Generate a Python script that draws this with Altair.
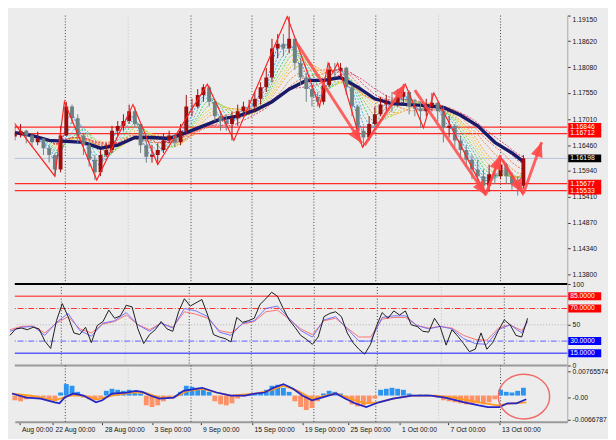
import math
import altair as alt
import pandas as pd

# ---------------- values ----------------
first_open = 1.1665
close = [1.1671,1.1677,1.1667,1.1653,1.1661,1.1641,1.1627,1.1597,1.1667,1.1727,
         1.1703,1.1667,1.1647,1.1617,1.1591,1.1627,1.1637,1.1677,1.1687,1.1697,
         1.1717,1.1691,1.1647,1.1623,1.1627,1.1637,1.1657,1.1667,1.1653,1.1677,
         1.1727,1.1727,1.1751,1.1767,1.1737,1.1707,1.1697,1.1691,1.1703,1.1717,
         1.1727,1.1727,1.1743,1.1767,1.1787,1.1847,1.1857,1.1847,1.1867,1.1817,
         1.1787,1.1763,1.1747,1.1737,1.1771,1.1803,1.1801,1.1807,1.1767,1.1727,
         1.1677,1.1663,1.1691,1.1711,1.1731,1.1737,1.1735,1.1747,1.1757,1.1727,
         1.1723,1.1717,1.1727,1.1735,1.1717,1.1683,1.1687,1.1657,1.1637,1.1617,
         1.1597,1.1583,1.1563,1.1587,1.1583,1.1607,1.1583,1.1567,1.1563,1.1620]
high = [1.1687,1.1691,1.1679,1.1671,1.1675,1.1661,1.1647,1.1631,1.1687,1.1737,
        1.1731,1.1711,1.1671,1.1651,1.1627,1.1637,1.1651,1.1687,1.1697,1.1711,
        1.1731,1.1727,1.1691,1.1657,1.1647,1.1651,1.1671,1.1677,1.1671,1.1691,
        1.1751,1.1743,1.1763,1.1773,1.1771,1.1737,1.1717,1.1711,1.1717,1.1731,
        1.1737,1.1741,1.1757,1.1777,1.1807,1.1867,1.1877,1.1877,1.1913,1.1867,
        1.1827,1.1797,1.1771,1.1757,1.1783,1.1817,1.1817,1.1817,1.1809,1.1771,
        1.1731,1.1687,1.1707,1.1727,1.1747,1.1751,1.1757,1.1763,1.1773,1.1761,
        1.1743,1.1737,1.1743,1.1755,1.1737,1.1727,1.1707,1.1691,1.1667,1.1647,
        1.1627,1.1617,1.1597,1.1607,1.1607,1.1623,1.1611,1.1591,1.1583,1.1627]
low = [1.1657,1.1663,1.1651,1.1643,1.1647,1.1627,1.1611,1.1583,1.1591,1.1667,
       1.1691,1.1651,1.1627,1.1603,1.1575,1.1583,1.1623,1.1631,1.1667,1.1677,
       1.1691,1.1683,1.1631,1.1611,1.1611,1.1607,1.1631,1.1651,1.1643,1.1647,
       1.1671,1.1707,1.1723,1.1737,1.1727,1.1697,1.1677,1.1677,1.1657,1.1687,
       1.1707,1.1711,1.1717,1.1731,1.1757,1.1777,1.1827,1.1831,1.1837,1.1803,
       1.1771,1.1737,1.1727,1.1727,1.1731,1.1767,1.1787,1.1787,1.1751,1.1707,
       1.1663,1.1643,1.1657,1.1687,1.1707,1.1717,1.1717,1.1727,1.1731,1.1711,
       1.1707,1.1683,1.1707,1.1717,1.1697,1.1653,1.1663,1.1643,1.1623,1.1603,
       1.1577,1.1567,1.1547,1.1551,1.1567,1.1577,1.1567,1.1555,1.1543,1.1557]

# thick navy moving average (bar position, price)
ma_x = [0.5,3.5,6.5,9.5,12.5,15.5,18.5,21.5,24.5,27.5,30.5,33.5,36.5,39.5,42.5,45.5,
        48.5,51.5,54.5,57.5,60.5,63.5,66.5,69.5,72.5,75.5,78.5,81.5,84.5,87.5,89.5]
ma_price = [1.1673,1.1667,1.1657,1.1655,1.1653,1.1641,1.1647,1.1663,1.1663,1.1661,
            1.1673,1.1687,1.1701,1.1707,1.1719,1.1737,1.1763,1.1781,1.1781,1.1787,
            1.1767,1.1743,1.1733,1.1731,1.1729,1.1725,1.1709,1.1687,1.1653,1.1631,1.1613]
ribbon_periods = [1, 2, 3, 4, 5, 6, 7, 8, 10, 12, 14, 16]

# zigzag vertices
zz_x = [0.0,7.5,9.17,14.83,21.17,25.5,34.17,38.83,48.17,53.83,55.33,56.17,57.0,
        61.33,68.83,72.0,73.83,82.83,85.5,89.5]
zz_p = [1.1699,1.1583,1.1737,1.1575,1.1731,1.1607,1.1773,1.1657,1.1913,1.1727,
        1.1817,1.1797,1.1817,1.1643,1.1773,1.1683,1.1755,1.1547,1.1623,1.1543]

# hand-drawn arrows (start -> tip)
arr_x0 = [49.7, 61.7, 70.5, 83.0, 85.8, 89.5]
arr_p0 = [1.1861, 1.1647, 1.1761, 1.1547, 1.1617, 1.1547]
arr_x1 = [61.2, 68.8, 83.0, 85.5, 89.5, 92.7]
arr_p1 = [1.1651, 1.1773, 1.1543, 1.1627, 1.1547, 1.1653]

level_prices = [1.16846, 1.16712, 1.15677, 1.15533]
current_price = 1.16198
price_ticks = [1.19150, 1.18620, 1.18080, 1.17550, 1.17010, 1.16460,
               1.15940, 1.15410, 1.14870, 1.14340, 1.13800]
price_boxes = [1.16846, 1.16712, 1.16198, 1.15677, 1.15533]
price_box_text = ["1.16846", "1.16712", "1.16198", "1.15677", "1.15533"]
price_box_fill = ["#ff0000", "#ff0000", "#000000", "#ff0000", "#ff0000"]

# period separators
sep_dark = [9.33, 31.33, 42.0, 52.83, 63.67, 85.5]
sep_light = [20.33, 74.67]

# RSI panel
rsi_fast = [37,45,46,44,47,45,30,21,55,76,
            60,40,38,47,28,49,54,68,58,61,
            74,72,45,27,38,44,54,45,42,66,
            82,73,77,81,62,38,35,33,29,59,
            53,55,58,75,82,90,85,70,56,47,
            37,32,26,35,60,64,66,60,40,28,
            20,14,26,48,65,58,67,62,67,50,
            48,42,41,58,47,25,44,36,27,17,
            20,40,20,28,43,56,50,37,35,58]
rsi_slow_bars = list(range(0, 89, 2)) + [89]
rsi_mid = [42,47,48,37,53,64,43,36,52,55,65,50,42,52,46,70,67,60,41,37,
           52,55,70,73,58,43,35,56,60,45,30,30,59,61,61,49,45,48,45,33,
           27,26,44,50,40,55]
rsi_slow = [44,48,48.5,40,52,60,45,40,51,54,62,50,44,52,47,66,63,58,43,40,
            51,54,66,68,57,45,38,55,58,46,35,35,57,59,59,49,46,48,46,37,
            32,31,46,50,43,53]
rsi_levels = [85, 70, 50, 30, 15]
rsi_box_vals = [85, 70, 30, 15]
rsi_box_text = ["85.0000", "70.0000", "30.0000", "15.0000"]
rsi_box_fill = ["#ff0000", "#ff0000", "#0000ff", "#0000ff"]

# MACD panel
macd_hist = [-0.0014,-0.0017,-0.0011,-0.0006,-0.0003,-0.0006,-0.0011,-0.0017,0.0009,0.0034,
             0.0029,0.0011,-0.0006,-0.0011,-0.0014,-0.0006,0.0014,0.0020,0.0017,0.0014,
             0.0017,0.0014,0.0006,-0.0029,-0.0034,-0.0029,-0.0017,-0.0006,-0.0003,0.0011,
             0.0029,0.0026,0.0023,0.0017,0.0011,-0.0017,-0.0026,-0.0029,-0.0023,-0.0009,
             -0.0003,0.0003,0.0006,0.0009,0.0017,0.0029,0.0032,0.0023,0.0011,-0.0017,
             -0.0034,-0.0043,-0.0037,-0.0017,0.0006,0.0014,0.0011,0.0006,-0.0011,-0.0026,
             -0.0032,-0.0029,-0.0023,-0.0009,0.0017,0.0020,0.0023,0.0020,0.0017,0.0006,
             0.0000,0.0003,0.0003,0.0000,-0.0006,-0.0014,-0.0017,-0.0020,-0.0023,-0.0026,
             -0.0026,-0.0023,-0.0026,-0.0020,-0.0011,0.0017,0.0011,0.0009,0.0014,0.0023]
macd_x = [0.0,2.5,5.0,7.5,8.3,9.2,10.8,12.5,14.7,15.8,17.5,20.0,21.7,22.8,24.2,25.8,
          28.3,30.0,33.3,35.8,38.3,40.8,42.5,44.2,45.8,47.5,49.2,50.8,52.5,54.2,56.7,
          58.3,60.0,62.0,64.2,66.7,70.0,73.3,75.8,79.2,81.7,83.3,85.3,86.7,88.3,90.0]
macd_main = [0.0006,-0.0006,-0.0009,-0.0020,-0.0023,-0.0006,0.0006,0.0,-0.0020,-0.0014,
             0.0006,0.0009,0.0014,0.0011,0.0,-0.0009,-0.0006,0.0014,0.0023,0.0009,
             0.0,0.0,0.0006,0.0009,0.0023,0.0034,0.0020,0.0,-0.0014,-0.0006,0.0006,
             -0.0009,-0.0023,-0.0034,-0.0020,-0.0009,0.0,0.0,-0.0006,-0.0020,-0.0029,
             -0.0034,-0.0034,-0.0023,-0.0023,-0.0011]
sig_x = [0.0,3.3,7.5,10.0,12.5,15.0,17.5,20.8,23.3,25.8,28.3,30.8,33.3,35.8,38.3,42.5,
         45.0,47.5,50.0,52.5,54.2,56.7,59.2,61.7,64.2,66.7,70.0,74.2,77.5,81.7,85.0,87.5,90.0]
macd_signal = [0.0006,0.0,-0.0014,0.0,0.0,-0.0011,0.0,0.0009,0.0009,-0.0006,-0.0006,
               0.0014,0.0020,0.0009,0.0,0.0006,0.0014,0.0029,0.0014,-0.0009,-0.0003,
               0.0006,-0.0009,-0.0023,-0.0020,-0.0009,0.0,0.0,-0.0006,-0.0020,-0.0029,
               -0.0023,-0.0020]
macd_ticks = [0.0072, -0.0006, -0.0072]
circle_x = [89.6]
circle_v = [-0.0003]

x_tick_vals = [1.34, 7.17, 15.83, 24.5, 33.0, 42.0, 50.83, 58.83, 67.83, 76.33, 85.33]
x_tick_text = ["Aug 00:00", "22 Aug 00:00", "28 Aug 00:00", "3 Sep 00:00", "9 Sep 00:00",
               "15 Sep 00:00", "19 Sep 00:00", "25 Sep 00:00", "1 Oct 00:00",
               "7 Oct 00:00", "13 Oct 00:00"]

# ---------------- layout / style ----------------
W = 570
H_PRICE, H_RSI, H_MACD = 277, 84, 58
X_MIN, X_MAX = 8 / 6, 578 / 6
P_MIN, P_MAX = 1.1360, 1.1915
M_MIN, M_MAX = -0.00776, 0.00891
BG = "#ececec"
FONT = "Liberation Sans"
BULL, BEAR = "#9c0d0d", "#6f8080"
ARROW = "#ff4848"
RIB_COLORS = ["#3a78e0", "#3f9ee8", "#3bbfd2", "#3cc85a", "#86d03a", "#d6d33a",
              "#f2c033", "#f5a23a", "#f3843f", "#f0684a", "#ea5060", "#df4272"]

XSCALE = alt.Scale(domain=[X_MIN, X_MAX], nice=False, zero=False)
x_label_expr = ("%s[indexof(%s, datum.value)]" % (
    "[" + ",".join("'%s'" % t for t in x_tick_text) + "]",
    "[" + ",".join(str(v) for v in x_tick_vals) + "]"))
X_AXIS = alt.Axis(values=x_tick_vals, labelExpr=x_label_expr, orient="bottom",
                  labelAlign="left", labelOffset=2, tickSize=3, labelPadding=1,
                  domainColor="#9a9a9a", domainWidth=2, title=None,
                  labelOverlap=False, labelFlush=False)


def X(field, axis=None):
    return alt.X(field, type="quantitative", scale=XSCALE, axis=axis)


def MXe(field):
    return X(field, X_AXIS)


P_SCALE = alt.Scale(domain=[P_MIN, P_MAX], nice=False, zero=False)
P_AXIS = alt.Axis(orient="right", values=price_ticks, format=".5f", labelFlush=True,
                  title=None, domainColor="#a8a8a8")
R_SCALE = alt.Scale(domain=[0, 100], nice=False)
R_AXIS = alt.Axis(orient="right", values=[0, 50, 100], format="d", title=None,
                  domainColor="#a8a8a8")
M_SCALE = alt.Scale(domain=[M_MIN, M_MAX], nice=False, zero=False)
M_AXIS = alt.Axis(orient="right", values=macd_ticks, title=None, domainColor="#a8a8a8",
                  labelExpr="datum.value > 0.001 ? '0.00765574' : (datum.value < -0.003 ? '-0.0066787' : '-0.00')")


def PY(f):
    return alt.Y(f, type="quantitative", scale=P_SCALE, axis=P_AXIS)


def RY(f):
    return alt.Y(f, type="quantitative", scale=R_SCALE, axis=R_AXIS)


def MY(f):
    return alt.Y(f, type="quantitative", scale=M_SCALE, axis=M_AXIS)


# ---------------- tables ----------------
n = len(close)
bars = pd.DataFrame({"i": list(range(n)), "close": close, "high": high, "low": low,
                     "open": [first_open] + close[:-1], "h": macd_hist, "rsi": rsi_fast})
bars["x"] = bars["i"] + 0.5
ma_df = pd.DataFrame({"x": ma_x, "p": ma_price})
zz_df = pd.DataFrame({"x": zz_x, "p": zz_p, "n": list(range(len(zz_x)))})
px_per_x = W / (X_MAX - X_MIN)
px_per_p = H_PRICE / (P_MAX - P_MIN)
arr_df = pd.DataFrame({"x0": arr_x0, "p0": arr_p0, "x1": arr_x1, "p1": arr_p1})
arr_df["ang"] = [math.degrees(math.atan2((b - a) * px_per_x, (d - c) * px_per_p)) % 360
                 for a, b, c, d in zip(arr_x0, arr_x1, arr_p0, arr_p1)]
sep_dark_df = pd.DataFrame({"x": sep_dark})
sep_light_df = pd.DataFrame({"x": sep_light})
lvl_df = pd.DataFrame({"p": level_prices})
cur_df = pd.DataFrame({"p": [current_price]})
pbox_df = pd.DataFrame({"p": price_boxes, "t": price_box_text, "f": price_box_fill})
slow_df = pd.DataFrame({"i": rsi_slow_bars, "mid": rsi_mid, "slow": rsi_slow})
slow_df["x"] = slow_df["i"] + 0.5
rbox_df = pd.DataFrame({"v": rsi_box_vals, "t": rsi_box_text, "f": rsi_box_fill})
main_df = pd.DataFrame({"x": macd_x, "v": macd_main})
sig_df = pd.DataFrame({"x": sig_x, "v": macd_signal})
circ_df = pd.DataFrame({"x": circle_x, "v": circle_v})

BOX_PATH = "M-1,-0.24L1,-0.24L1,0.24L-1,0.24Z"
HEAD_PATH = "M0,0L0.42,1L-0.42,1Z"
ELLIPSE_PATH = "M1,0A1,0.87,0,1,1,-1,0A1,0.87,0,1,1,1,0Z"


def separators(xf):
    d = alt.Chart(sep_dark_df).mark_rule(strokeDash=[1, 2], strokeWidth=1,
                                         color="#3a3a3a").encode(x=xf("x"))
    l = alt.Chart(sep_light_df).mark_rule(strokeDash=[1, 2], strokeWidth=1,
                                          color="#c2c2c2").encode(x=xf("x"))
    return d + l


def boxes(df, yf, field):
    b = alt.Chart(df).mark_point(shape=BOX_PATH, size=1156, filled=True, opacity=1,
                                 strokeWidth=0).encode(
        x=alt.value(588), y=yf(field), fill=alt.Fill("f:N", scale=None))
    t = alt.Chart(df).mark_text(align="left", baseline="middle", fontSize=7, font=FONT,
                                color="white").encode(
        x=alt.value(573), y=yf(field), text="t:N")
    return b + t


# ---------------- price panel ----------------
cur_line = alt.Chart(cur_df).mark_rule(color="#b5bde0", strokeWidth=1).encode(y=PY("p"))
lvl_lines = alt.Chart(lvl_df).mark_rule(color="#ff2a2a", strokeWidth=1.3).encode(y=PY("p"))

rib = alt.Chart(bars)
for k in ribbon_periods:
    rib = rib.transform_window(frame=[-k, 0], sort=[alt.SortField("i")],
                               **{"m%d" % k: "mean(close)"})
rib_keys = ["m%d" % k for k in ribbon_periods]
ribbon = rib.transform_fold(rib_keys, as_=["k", "v"]).mark_line(
    strokeDash=[2, 1.5], strokeWidth=1, clip=True).encode(
    x=X("x"), y=PY("v:Q"),
    stroke=alt.Stroke("k:N", scale=alt.Scale(domain=rib_keys, range=RIB_COLORS), legend=None))

navy = alt.Chart(ma_df).mark_line(color="#1a1a6a", strokeWidth=3.5, clip=True).encode(
    x=X("x"), y=PY("p"))
candle_color = alt.condition("datum.close >= datum.open", alt.value(BULL), alt.value(BEAR))
wicks = alt.Chart(bars).mark_rule(strokeWidth=1, clip=True).encode(
    x=X("x"), y=PY("low"), y2="high", color=candle_color)
bodies = alt.Chart(bars).mark_bar(size=4, clip=True).encode(
    x=X("x"), y=PY("open"), y2="close", color=candle_color)
zigzag = alt.Chart(zz_df).mark_line(color="#ff2020", strokeWidth=1.2, clip=True).encode(
    x=X("x"), y=PY("p"), order="n:Q")
arr_lines = alt.Chart(arr_df).mark_rule(color=ARROW, strokeWidth=3, opacity=0.85).encode(
    x=X("x0"), y=PY("p0"), x2="x1", y2="p1")
arr_heads = alt.Chart(arr_df).mark_point(shape=HEAD_PATH, size=900, filled=True,
                                         color=ARROW, opacity=0.9, strokeWidth=0).encode(
    x=X("x1"), y=PY("p1"), angle=alt.Angle("ang:Q", scale=None))

price = alt.layer(separators(X), cur_line, lvl_lines, ribbon, navy, wicks, bodies, zigzag,
                  arr_lines, arr_heads, boxes(pbox_df, PY, "p")).resolve_scale(
    stroke="independent").properties(width=W, height=H_PRICE)

# ---------------- RSI panel ----------------
lv_styles = {85: dict(color="#ff5c5c", strokeWidth=1.5),
             70: dict(color="#ff3030", strokeWidth=1.2, strokeDash=[6, 2, 1, 2]),
             50: dict(color="#b0b0b0", strokeWidth=1, strokeDash=[1, 2]),
             30: dict(color="#7b7bff", strokeWidth=1.2, strokeDash=[6, 2, 1, 2]),
             15: dict(color="#5c5cff", strokeWidth=1.5)}
rsi_layers = [separators(X)]
for lv in rsi_levels:
    rsi_layers.append(alt.Chart(pd.DataFrame({"v": [lv]})).mark_rule(**lv_styles[lv]).encode(
        y=RY("v")))
rsi_layers.append(alt.Chart(pd.DataFrame({"v": [100]})).mark_rule(
    color="#000000", strokeWidth=2).encode(y=RY("v")))
rsi_layers.append(alt.Chart(slow_df).mark_line(color="#ff7070", strokeWidth=1).encode(
    x=X("x"), y=RY("slow")))
rsi_layers.append(alt.Chart(slow_df).mark_line(color="#6f6fff", strokeWidth=1).encode(
    x=X("x"), y=RY("mid")))
rsi_layers.append(alt.Chart(bars).mark_line(color="#1a1a1a", strokeWidth=1).encode(
    x=X("x"), y=RY("rsi")))
rsi_layers.append(boxes(rbox_df, RY, "v"))
rsi = alt.layer(*rsi_layers).properties(width=W, height=H_RSI)

# ---------------- MACD panel ----------------
top_sep = alt.Chart(pd.DataFrame({"v": [M_MAX]})).mark_rule(
    color="#9a9a9a", strokeWidth=2).encode(y=MY("v"))
hist = alt.Chart(bars).mark_bar(size=5).encode(
    x=MXe("x"), y=MY("h"), y2=alt.datum(0),
    color=alt.condition("datum.h > 0", alt.value("#2b93f0"), alt.value("#ff9166")))
sig_line = alt.Chart(sig_df).mark_line(color="#ff9a1f", strokeWidth=1.8).encode(
    x=MXe("x"), y=MY("v"))
main_line = alt.Chart(main_df).mark_line(color="#2525c8", strokeWidth=1.8).encode(
    x=MXe("x"), y=MY("v"))
circ = alt.Chart(circ_df).mark_point(shape=ELLIPSE_PATH, size=2809, filled=False,
                                     color="#f06a6a", strokeWidth=1.5, opacity=1).encode(
    x=MXe("x"), y=MY("v"))
macd = alt.layer(top_sep, separators(MXe), hist, sig_line, main_line, circ).properties(
    width=W, height=H_MACD)

chart = alt.vconcat(price, rsi, macd, spacing=0, bounds="flush").properties(
    padding=0, background=BG).configure_view(stroke=None, fill=BG).configure_axis(
    labelFont=FONT, labelFontSize=7, labelColor="#111111", tickColor="#333333",
    tickSize=3, grid=False, labelPadding=2)

chart.save("out.html", embed_options={"renderer": "svg", "actions": False})
